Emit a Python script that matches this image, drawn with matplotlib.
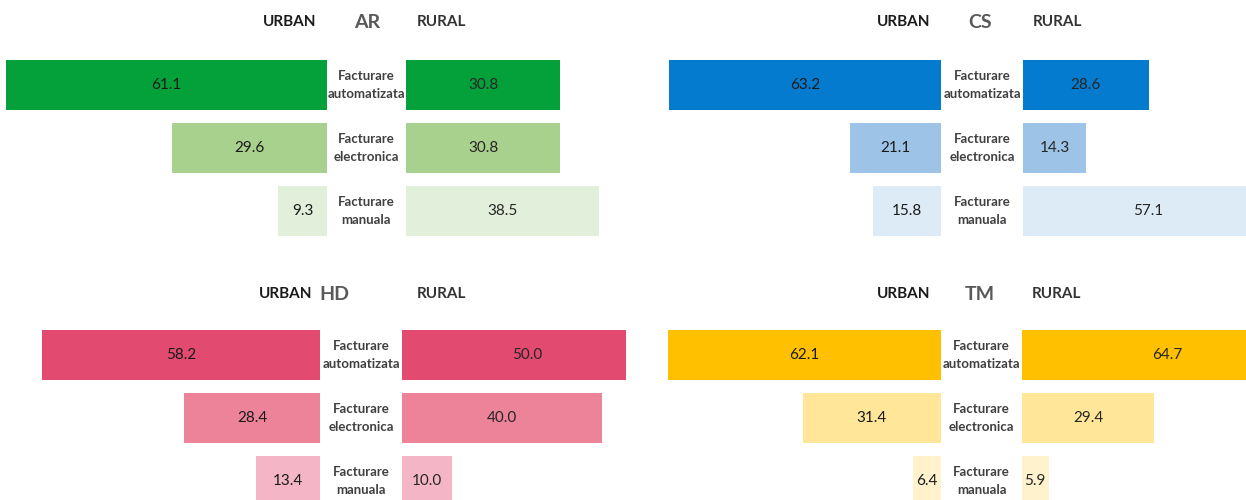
import matplotlib
matplotlib.use("Agg")
import matplotlib.pyplot as plt

plt.rcParams['font.family'] = ['Liberation Sans Narrow', 'Lato', 'DejaVu Sans']

# Daten
categories = ['Facturare\nautomatizata', 'Facturare\nelectronica', 'Facturare\nmanuala']
regions = ['AR', 'CS', 'HD', 'TM']

urban_ar = [61.1, 29.6, 9.3]
rural_ar = [30.8, 30.8, 38.5]
urban_cs = [63.2, 21.1, 15.8]
rural_cs = [28.6, 14.3, 57.1]
urban_hd = [58.2, 28.4, 13.4]
rural_hd = [50.0, 40.0, 10.0]
urban_tm = [62.1, 31.4, 6.4]
rural_tm = [64.7, 29.4, 5.9]

colors_ar = ['#04A03A', '#A9D18E', '#E2EFDA']
colors_cs = ['#047BCE', '#9DC3E6', '#DDEBF7']
colors_hd = ['#E24A6F', '#EC8399', '#F4B6C6']
colors_tm = ['#FFC000', '#FFE699', '#FFF2CC']

W, H = 1246, 500
fig = plt.figure(figsize=(W / 100, H / 100), dpi=100)

# Layout in Pixeln: linker Rand, Urban-Ende, Rural-Start, rechter Rand, px/Einheit urban, px/Einheit rural,
# Mitte erste Zeile, Achse oben/unten, Kopfzeile y, Kopf-x (URBAN, Region, RURAL)
panels = [
    ('AR', urban_ar, rural_ar, colors_ar, 0, 327, 406, 620, 5.25, 5.0, 85, 40, 250, 22, (290, 367, 441)),
    ('CS', urban_cs, rural_cs, colors_cs, 620, 941, 1023, 1246, 4.3, 4.4, 85, 40, 250, 22, (904, 980, 1057)),
    ('HD', urban_hd, rural_hd, colors_hd, 0, 320, 402, 626, 4.78, 5.0, 355, 310, 500, 294, (286, 334, 441)),
    ('TM', urban_tm, rural_tm, colors_tm, 620, 941, 1022, 1246, 4.4, 4.5, 355, 310, 500, 294, (904, 980, 1056)),
]

row_px = 63
bar_h = 50 / row_px


def px_axes(x0, x1, y0, y1):
    ax = fig.add_axes([x0 / W, 1 - y1 / H, (x1 - x0) / W, (y1 - y0) / H])
    ax.set_facecolor('none')
    ax.axis('off')
    return ax


for name, urban, rural, cols, xl, ur, rl, xr, su, sr, c0, yt, yb, hy, hx in panels:
    ylim = ((yb - c0) / row_px, -(c0 - yt) / row_px)
    y = range(len(categories))

    # Urban (nach links)
    ax_u = px_axes(xl, ur, yt, yb)
    ax_u.barh(y, urban, height=bar_h, color=cols)
    ax_u.set_xlim((ur - xl) / su, 0)
    ax_u.set_ylim(*ylim)
    for i, v in enumerate(urban):
        ax_u.text(v / 2, i, f'{v:.1f}', ha='center', va='center', fontsize=11, color='#1a1a1a')

    # Rural (nach rechts)
    ax_r = px_axes(rl, xr, yt, yb)
    ax_r.barh(y, rural, height=bar_h, color=cols)
    ax_r.set_xlim(0, (xr - rl) / sr)
    ax_r.set_ylim(*ylim)
    for i, v in enumerate(rural):
        ax_r.text(v / 2, i, f'{v:.1f}', ha='center', va='center', fontsize=11, color='#262626')

    # Kategorien in der Mitte
    for i, c in enumerate(categories):
        fig.text((ur + rl) / 2 / W, 1 - (c0 + i * row_px) / H, c, ha='center', va='center',
                 fontsize=9.5, fontweight='bold', color='#404040', linespacing=1.6)

    # Kopfzeile
    fig.text(hx[0] / W, 1 - hy / H, 'URBAN', ha='center', va='center', fontsize=11,
             fontweight='bold', color='#1a1a1a')
    fig.text(hx[1] / W, 1 - hy / H, name, ha='center', va='center', fontsize=14,
             fontweight='bold', color='#595959')
    fig.text(hx[2] / W, 1 - hy / H, 'RURAL', ha='center', va='center', fontsize=11,
             fontweight='bold', color='#333333')

fig.savefig('out.png', dpi=100)
